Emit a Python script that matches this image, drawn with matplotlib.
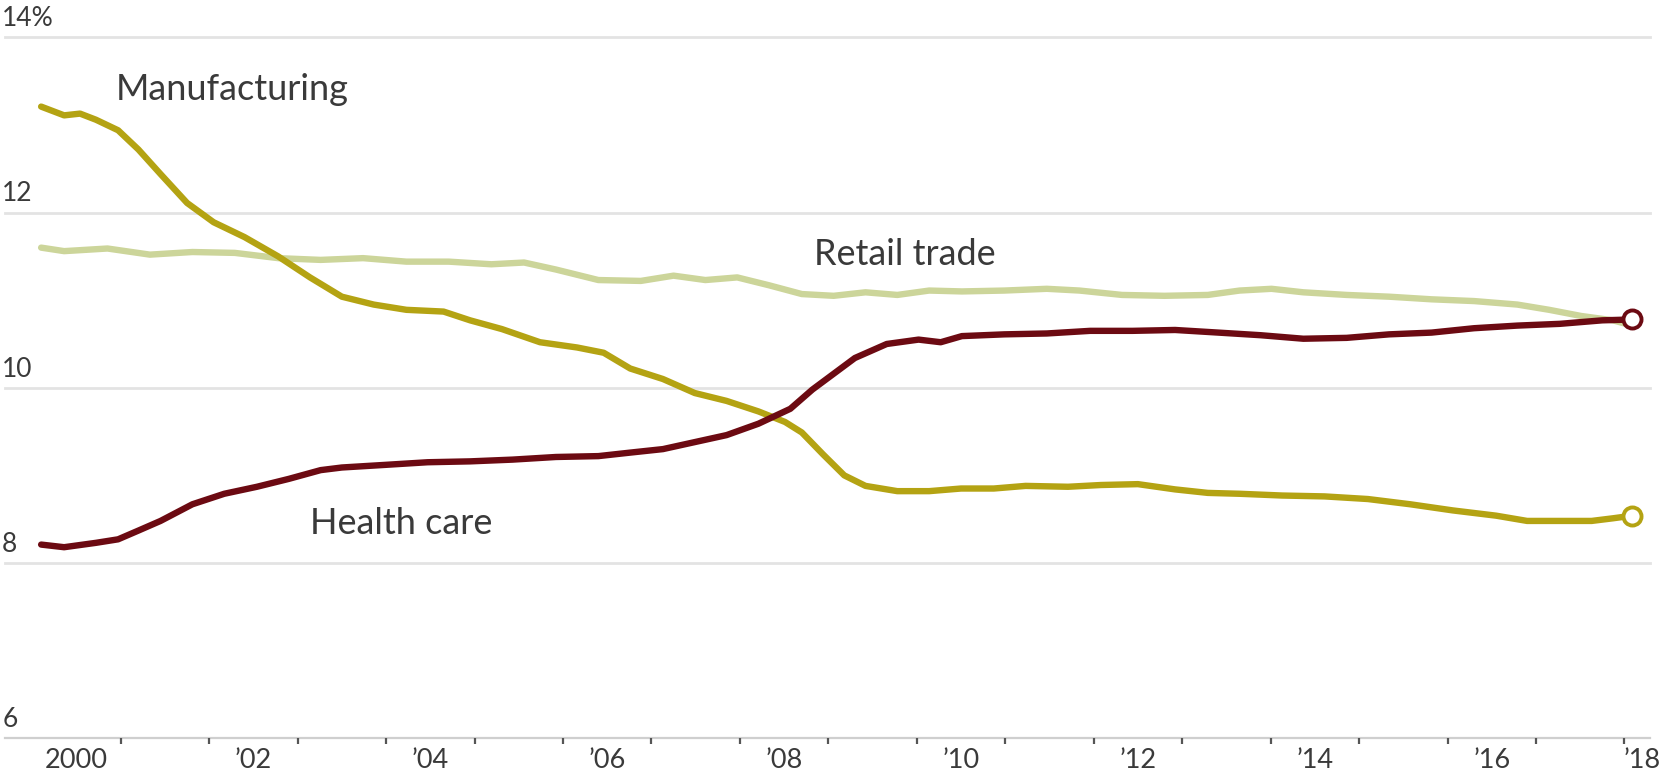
import matplotlib
matplotlib.use("Agg")
import matplotlib.pyplot as plt

plt.rcParams['font.family'] = ['Lato', 'DejaVu Sans']

# share of total employment, %, by fractional year
mfg_year = [2000.10, 2000.36, 2000.54, 2000.72, 2000.97, 2001.20, 2001.45, 2001.75,
            2002.05, 2002.40, 2002.78, 2003.14, 2003.50, 2003.86, 2004.23, 2004.65,
            2004.95, 2005.31, 2005.74, 2006.16, 2006.46, 2006.76, 2007.13, 2007.49,
            2007.85, 2008.21, 2008.51, 2008.70, 2008.94, 2009.18, 2009.42, 2009.78,
            2010.14, 2010.50, 2010.87, 2011.23, 2011.71, 2012.08, 2012.50, 2012.92,
            2013.29, 2013.65, 2014.13, 2014.61, 2015.10, 2015.58, 2016.06, 2016.55,
            2016.90, 2017.27, 2017.63, 2017.87, 2018.09]
mfg_share = [13.21, 13.11, 13.13, 13.06, 12.94, 12.72, 12.44, 12.11,
             11.89, 11.72, 11.50, 11.26, 11.04, 10.95, 10.89, 10.87,
             10.77, 10.67, 10.52, 10.46, 10.40, 10.22, 10.10, 9.94,
             9.85, 9.73, 9.61, 9.49, 9.24, 9.00, 8.88, 8.82,
             8.82, 8.85, 8.85, 8.88, 8.87, 8.89, 8.90, 8.84,
             8.80, 8.79, 8.77, 8.76, 8.73, 8.67, 8.60, 8.54,
             8.48, 8.48, 8.48, 8.51, 8.54]

health_year = [2000.10, 2000.36, 2000.72, 2000.97, 2001.20, 2001.45, 2001.81, 2002.17,
               2002.54, 2002.90, 2003.26, 2003.50, 2003.99, 2004.47, 2004.95, 2005.43,
               2005.92, 2006.40, 2006.76, 2007.13, 2007.49, 2007.85, 2008.21, 2008.57,
               2008.82, 2009.06, 2009.30, 2009.66, 2010.02, 2010.27, 2010.51, 2010.99,
               2011.47, 2011.96, 2012.44, 2012.92, 2013.41, 2013.89, 2014.37, 2014.86,
               2015.34, 2015.82, 2016.30, 2016.79, 2017.27, 2017.75, 2018.09]
health_share = [8.21, 8.18, 8.23, 8.27, 8.37, 8.48, 8.67, 8.79,
                8.87, 8.96, 9.06, 9.09, 9.12, 9.15, 9.16, 9.18,
                9.21, 9.22, 9.26, 9.30, 9.38, 9.46, 9.59, 9.76,
                9.98, 10.16, 10.34, 10.50, 10.55, 10.52, 10.59, 10.61,
                10.62, 10.65, 10.65, 10.66, 10.63, 10.60, 10.56, 10.57,
                10.61, 10.63, 10.68, 10.71, 10.73, 10.77, 10.78]

retail_year = [2000.10, 2000.36, 2000.85, 2001.33, 2001.81, 2002.29, 2002.78, 2003.26,
               2003.74, 2004.23, 2004.71, 2005.19, 2005.56, 2005.92, 2006.40, 2006.88,
               2007.25, 2007.61, 2007.97, 2008.33, 2008.70, 2009.06, 2009.42, 2009.78,
               2010.14, 2010.51, 2010.99, 2011.47, 2011.84, 2012.32, 2012.80, 2013.29,
               2013.65, 2014.01, 2014.37, 2014.86, 2015.34, 2015.82, 2016.30, 2016.79,
               2017.15, 2017.51, 2017.87, 2018.09]
retail_share = [11.60, 11.56, 11.59, 11.52, 11.55, 11.54, 11.48, 11.46,
                11.48, 11.44, 11.44, 11.41, 11.43, 11.35, 11.23, 11.22,
                11.28, 11.23, 11.26, 11.17, 11.07, 11.05, 11.09, 11.06,
                11.11, 11.10, 11.11, 11.13, 11.11, 11.06, 11.05, 11.06,
                11.11, 11.13, 11.09, 11.06, 11.04, 11.01, 10.99, 10.95,
                10.89, 10.82, 10.77, 10.71]

y_ticks = [14, 12, 10, 8, 6]
y_labels = ['14%', '12', '10', '8', '6']
x_years = list(range(2000, 2019))
x_labels = ['2000', '’02', '’04', '’06', '’08', '’10', '’12', '’14', '’16', '’18']

MFG = '#b4a313'
HEALTH = '#6c0a12'
RETAIL = '#ccd59a'
GRID = '#e3e3e3'
TEXT = '#3a3a3a'

fig = plt.figure(figsize=(16.75, 7.81), dpi=100)
ax = fig.add_axes([0, 0, 1, 1])
ax.set_xlim(1999.635, 2018.572)
ax.set_ylim(5.511, 14.427)
ax.axis('off')

# horizontal gridlines and labels
for v, lab in zip(y_ticks, y_labels):
    if v == 6:
        ax.axhline(v, xmin=0.003, xmax=0.985, color='#cfcfcf', lw=1.6, zorder=1)
    else:
        ax.axhline(v, xmin=0.003, xmax=0.985, color=GRID, lw=2.0, zorder=1)
    ax.text(1999.66, v + 0.07, lab, fontsize=19, color=TEXT,
            ha='left', va='bottom')

# year ticks hanging below the baseline
for yr in x_years[1:]:
    ax.plot([yr, yr], [6.0, 5.93], color='#555555', lw=1.6, zorder=2,
            solid_capstyle='butt')

for i, lab in enumerate(x_labels):
    yr = 2000 + 2 * i
    xpos = yr + 0.5 if yr < 2018 else 2018.2
    ax.text(xpos, 5.75, lab, fontsize=19.5, color=TEXT, ha='center', va='center')

lw = 4.6
ax.plot(retail_year, retail_share, color=RETAIL, lw=lw, zorder=3,
        solid_capstyle='round', solid_joinstyle='round')
ax.plot(mfg_year, mfg_share, color=MFG, lw=lw, zorder=4,
        solid_capstyle='round', solid_joinstyle='round')
ax.plot(health_year, health_share, color=HEALTH, lw=lw, zorder=5,
        solid_capstyle='round', solid_joinstyle='round')

# open circles at the latest value
ax.plot(mfg_year[-1], mfg_share[-1], 'o', ms=13, mfc='white', mec=MFG,
        mew=2.8, zorder=6)
ax.plot(health_year[-1], health_share[-1], 'o', ms=13, mfc='white', mec=HEALTH,
        mew=2.8, zorder=6)

ax.text(2000.94, 13.4, 'Manufacturing', fontsize=26, color=TEXT,
        ha='left', va='center')
ax.text(2008.84, 11.52, 'Retail trade', fontsize=26, color=TEXT,
        ha='left', va='center')
ax.text(2003.14, 8.45, 'Health care', fontsize=26, color=TEXT,
        ha='left', va='center')

fig.savefig('out.png', dpi=100, facecolor='white')
